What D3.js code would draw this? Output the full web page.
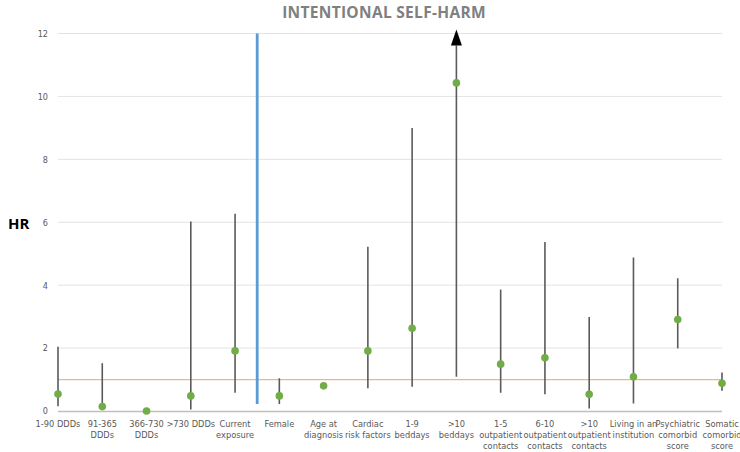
<!DOCTYPE html>
<html><head><meta charset="utf-8">
<script src="https://cdn.jsdelivr.net/npm/d3@7"></script>
<style>body{margin:0;background:#fff}svg{display:block}</style>
</head><body>
<svg id="c" width="740" height="452"></svg>
<script>
const categories = [
  ["1-90 DDDs"], ["91-365","DDDs"], ["366-730","DDDs"], [">730 DDDs"],
  ["Current","exposure"], ["Female"], ["Age at","diagnosis"], ["Cardiac","risk factors"],
  ["1-9","beddays"], [">10","beddays"], ["1-5","outpatient","contacts"],
  ["6-10","outpatient","contacts"], [">10","outpatient","contacts"],
  ["Living in an","institution"], ["Psychiatric","comorbid","score"], ["Somatic","comorbid","score"]
];
const hr    = [0.54, 0.14, 0.00, 0.48, 1.91, 0.48, 0.80, 1.91, 2.63, 10.43, 1.49, 1.69, 0.53, 1.09, 2.91, 0.88];
const lower = [0.15, 0.03, 0.00, 0.05, 0.58, 0.22, 0.78, 0.72, 0.77, 1.09, 0.58, 0.53, 0.08, 0.24, 1.99, 0.64];
const upper = [2.04, 1.52, 0.00, 6.02, 6.27, 1.04, 0.83, 5.22, 9.00, 12.0, 3.86, 5.37, 2.99, 4.88, 4.22, 1.22];
const truncated = [false,false,false,false,false,false,false,false,false,true,false,false,false,false,false,false];
const yTicks = [0, 2, 4, 6, 8, 10, 12];
const refValue = 1;
const separatorRange = [0.22, 12];
const title = "INTENTIONAL SELF-HARM";
const yTitle = "HR";

const narrow = "'DejaVu Sans Condensed', 'Liberation Sans Narrow', sans-serif";
const svg = d3.select("#c");
const ids = categories.map((d,i)=>i);
const x = d3.scalePoint().domain(ids).range([58, 722]).padding(0);
const y = d3.scaleLinear().domain([0, 12]).range([411, 33.5]);

// gridlines
svg.append("g").selectAll("line").data(yTicks.filter(t=>t>0)).join("line")
  .attr("x1", 58).attr("x2", 722).attr("y1", d=>y(d)).attr("y2", d=>y(d))
  .attr("stroke", "#e3e3e3").attr("stroke-width", 1);

// y axis labels
const yAxis = d3.axisLeft(y).tickValues(yTicks).tickSize(0).tickPadding(0);
const ya = svg.append("g").attr("transform", "translate(48,0)").call(yAxis);
ya.select(".domain").remove();
ya.selectAll("text").attr("fill", "#595959").style("font-family", narrow).style("font-size", "9px");

// x axis line
svg.append("line").attr("x1", 58).attr("x2", 722).attr("y1", y(0)+0.5).attr("y2", y(0)+0.5)
  .attr("stroke", "#bfbfbf").attr("stroke-width", 1.5);

// x labels
const xl = svg.append("g").selectAll("text").data(ids).join("text")
  .attr("x", d=>x(d)).attr("y", 426.5).attr("text-anchor", "middle")
  .attr("fill", "#595959").style("font-family", narrow).style("font-size", "9.2px");
xl.each(function(d){
  const t = d3.select(this);
  categories[d].forEach((line, j)=>{
    t.append("tspan").attr("x", x(d)).attr("dy", j===0 ? 0 : 11.2).text(line);
  });
});

// reference line
svg.append("line").attr("x1", 58).attr("x2", 722).attr("y1", y(refValue)).attr("y2", y(refValue))
  .attr("stroke", "#f1b487").attr("stroke-width", 1.2);

// separator
const sepX = (x(4) + x(5)) / 2;
svg.append("line").attr("x1", sepX).attr("x2", sepX).attr("y1", y(separatorRange[0])).attr("y2", y(separatorRange[1]))
  .attr("stroke", "#5b9bd5").attr("stroke-width", 2.8);

// error bars
svg.append("g").selectAll("line").data(ids.filter(i=>upper[i]>lower[i])).join("line")
  .attr("x1", d=>x(d)).attr("x2", d=>x(d))
  .attr("y1", d=>y(lower[d])).attr("y2", d=>truncated[d] ? y(upper[d]) + 12 : y(upper[d]))
  .attr("stroke", "#5a5a5a").attr("stroke-width", 1.6);

// arrows
svg.append("g").selectAll("path").data(ids.filter(i=>truncated[i])).join("path")
  .attr("d", d=>{
    const cx = x(d), ty = y(upper[d]) - 4;
    return `M${cx},${ty} L${cx-5.5},${ty+16} L${cx+5.5},${ty+16} Z`;
  }).attr("fill", "#000");

// points
svg.append("g").selectAll("circle").data(ids).join("circle")
  .attr("cx", d=>x(d)).attr("cy", d=>y(hr[d])).attr("r", 3.8).attr("fill", "#70ad47");

// title
svg.append("text").attr("x", 384).attr("y", 18).attr("text-anchor", "middle")
  .attr("fill", "#808080").style("font-family", "'Open Sans', sans-serif").style("font-weight", "bold")
  .style("font-size", "15.5px").style("letter-spacing", "0.3px").text(title);

// y title
svg.append("text").attr("x", 8).attr("y", 229)
  .attr("fill", "#000").style("font-family", "'Open Sans', sans-serif").style("font-weight", "bold")
  .style("font-size", "15px").text(yTitle);
</script>
</body></html>
